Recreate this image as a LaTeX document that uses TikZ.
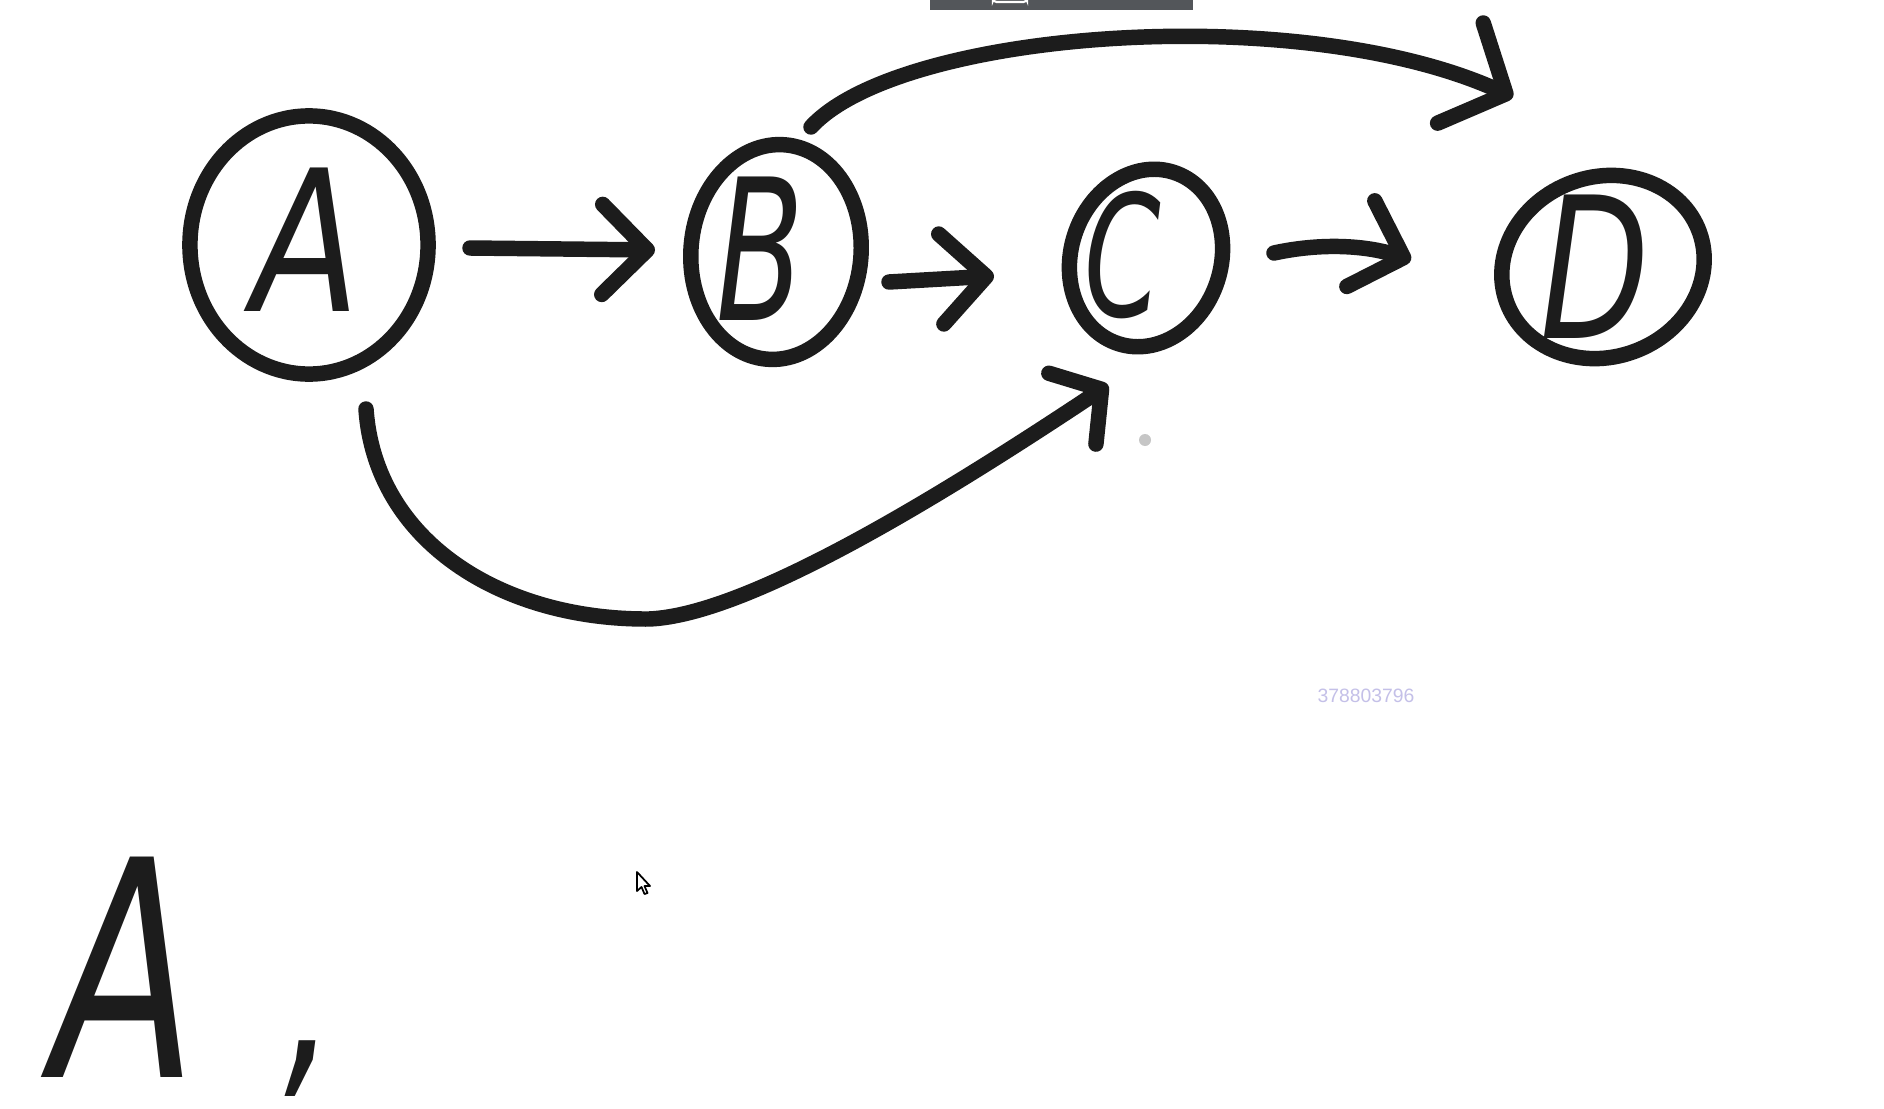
\documentclass[tikz,border=0pt]{standalone}
\usepackage{fontspec}
\setmainfont{DejaVu Sans}
\newfontfamily\wmfont{Liberation Sans}
\usetikzlibrary{arrows.meta,shapes.geometric,calc}
\definecolor{ink}{RGB}{28,28,28}
\definecolor{barcol}{RGB}{83,86,90}
\definecolor{wmcol}{RGB}{196,192,232}
\begin{document}
\begin{tikzpicture}[x=0.01cm,y=-0.01cm,
  ring/.style={ellipse, draw=ink, line width=4.4pt, inner sep=0pt},
  letter/.style={inner sep=0pt, text=ink, font=\fontsize{56}{56}\selectfont\itshape},
  conn/.style={draw=ink, line width=4.4pt, line cap=round, line join=round},
  tipsmall/.style={-{Straight Barb[length=0.45cm,width=0.9cm,round]}},
  tipbig/.style={-{Straight Barb[length=0.5cm,width=1.1cm,round]}},
  tipac/.style={-{Straight Barb[length=0.35cm,width=0.85cm,round]}},
]
\useasboundingbox (0,0) rectangle (1884,1109);
\fill[white] (0,0) rectangle (1884,1109);

% top bar
\fill[barcol] (930,0) rectangle (1193,10);
\draw[white, line width=0.6pt, rounded corners=1pt] (993,-3) rectangle (1027,2);

% rings
\node[ring, minimum width=2.38cm, minimum height=2.58cm] (A) at (309,245) {};
\node[ring, minimum width=1.70cm, minimum height=2.15cm, rotate=-5] (B) at (776,252) {};
\node[ring, minimum width=1.50cm, minimum height=1.80cm, rotate=-18] (C) at (1146,258) {};
\node[ring, minimum width=2.05cm, minimum height=1.80cm, rotate=20] (D) at (1603,267) {};

% letters
\node[letter, xscale=0.8] (Al) at (306,240) {A};
\node[letter, xscale=0.65] (Bl) at (760,249) {B};
\node[letter, xscale=0.65, font=\fontsize{48}{48}\selectfont\itshape] (Cl) at (1123,255) {C};
\node[letter, xscale=0.72] (Dl) at (1595,267) {D};

% straight connectors
\draw[conn, tipsmall] ($(A)+(161,3)$) -- ($(B)+(-121,-2)$);
\draw[conn, tipsmall] ($(B)+(113,30)$) -- ($(C)+(-152,18)$);
\draw[conn, tipsmall] ($(C)+(128,-5)$) .. controls (1320,243) and (1365,245) .. ($(D)+(-192,-7)$);

% curved connectors
\draw[conn, tipbig] ($(B)+(35,-125)$) .. controls (900,30) and (1300,0) .. ($(D)+(-90,-170)$);
\coordinate (ACbottom) at (649,619);
\draw[conn, tipac] ($(A)+(57,164)$) .. controls (375,540) and (500,620) .. (ACbottom)
   .. controls (750,615) and (950,490) .. ($(C)+(-38,127)$);
\fill[gray!45] (1145,440) circle (6);

% watermark
\node[font=\wmfont\fontsize{5.5}{6}\selectfont, text=wmcol, inner sep=0pt] (wm) at (1366,696) {378803796};

% cursor
\filldraw[fill=white, draw=black, line width=0.5pt, line join=round] (637,872) -- ++(0,19) -- ++(4.5,-4) -- ++(3,7) -- ++(3,-1) -- ++(-3,-7) -- ++(5.5,0) -- cycle;

% bottom handwriting
\node[font=\fontsize{86}{86}\selectfont\itshape, text=ink, inner sep=0pt, xscale=0.7, anchor=base west] (bigA) at (52,1077) {A\hspace{1.25cm}\raisebox{0.08cm}{\fontsize{66}{66}\selectfont,}};
\end{tikzpicture}
\end{document}
